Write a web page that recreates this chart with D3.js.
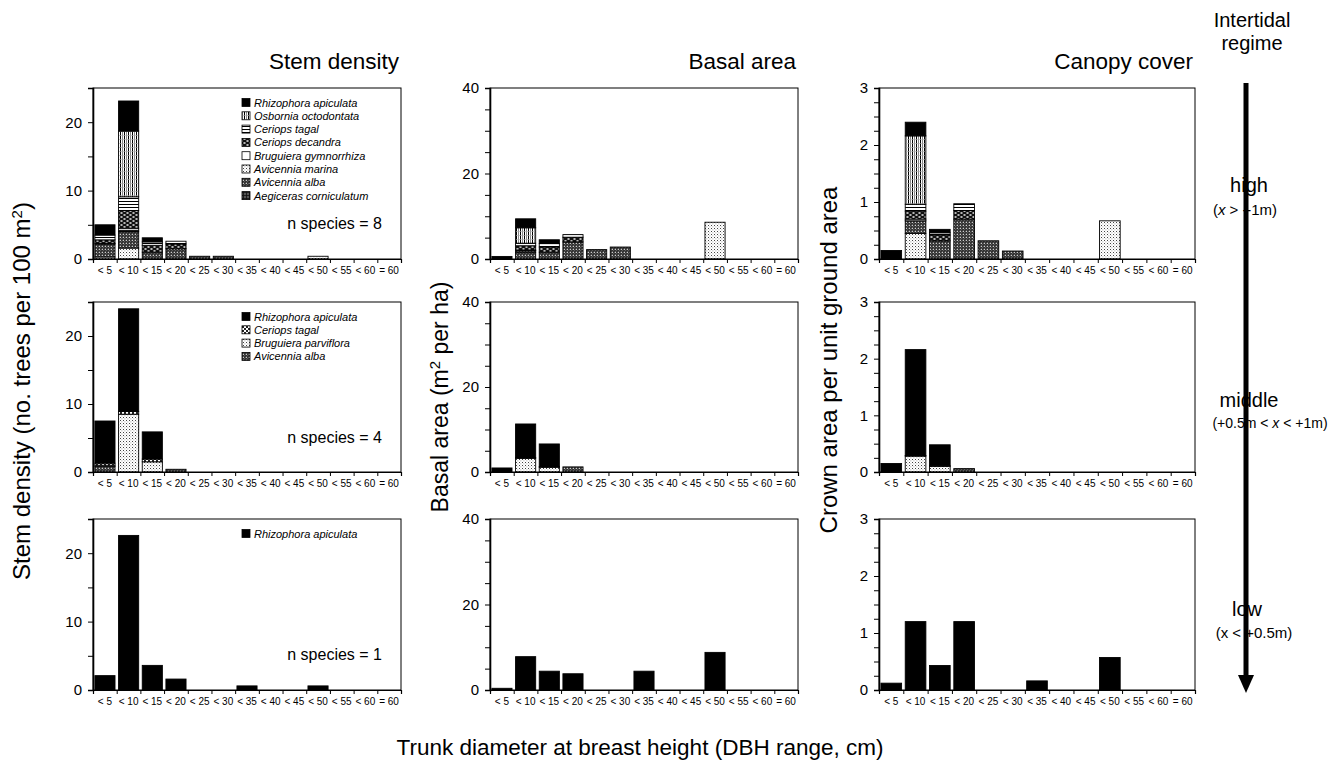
<!DOCTYPE html>
<html>
<head>
<meta charset="utf-8">
<script src="https://cdn.jsdelivr.net/npm/d3@7"></script>
<style>
  body { margin: 0; background: #fff; }
  text { font-family: "Liberation Sans", Arial, Helvetica, sans-serif; }
</style>
</head>
<body>
<svg id="chart" width="1330" height="767"></svg>
<script>
// DBH classes (x categories)
const dbhClasses = ["< 5","< 10","< 15","< 20","< 25","< 30","< 35","< 40","< 45","< 50","< 55","< 60","= 60"];

// species lists, legend order (top to bottom)
const highSpecies = ["Rhizophora apiculata","Osbornia octodontata","Ceriops tagal","Ceriops decandra",
  "Bruguiera gymnorrhiza","Avicennia marina","Avicennia alba","Aegiceras corniculatum"];
const midSpecies = ["Rhizophora apiculata","Ceriops tagal","Bruguiera parviflora","Avicennia alba"];
const lowSpecies = ["Rhizophora apiculata"];

// stacking order, bottom to top
const highStackOrder = ["Avicennia marina","Avicennia alba","Aegiceras corniculatum","Bruguiera gymnorrhiza",
  "Ceriops decandra","Ceriops tagal","Osbornia octodontata","Rhizophora apiculata"];
const midStackOrder = ["Avicennia alba","Bruguiera parviflora","Ceriops tagal","Rhizophora apiculata"];
const lowStackOrder = ["Rhizophora apiculata"];

// high intertidal, one array per species (same order as highSpecies)
const highStem = [
  [1.5,4.4,0.6,0,0,0,0,0,0,0,0,0,0],
  [0,9.6,0,0,0,0,0,0,0,0,0,0,0],
  [0.7,2.0,0.5,0.4,0,0,0,0,0,0,0,0,0],
  [0.5,2.6,1.0,0.7,0,0,0,0,0,0,0,0,0],
  [0.1,0.3,0,0,0,0,0,0,0,0,0,0,0],
  [0.3,1.6,0,0,0,0,0,0,0,0.4,0,0,0],
  [1.9,2.4,1.0,1.5,0.4,0.4,0,0,0,0,0,0,0],
  [0,0.2,0,0,0,0,0,0,0,0,0,0,0]
];
const highBasal = [
  [0.6,2.1,0.9,0,0,0,0,0,0,0,0,0,0],
  [0,3.6,0,0,0,0,0,0,0,0,0,0,0],
  [0,0.6,0.8,0.6,0,0,0,0,0,0,0,0,0],
  [0,1.0,1.2,1.1,0,0,0,0,0,0,0,0,0],
  [0,0.1,0,0,0,0,0,0,0,0,0,0,0],
  [0,0,0,0,0,0,0,0,0,8.6,0,0,0],
  [0,1.6,1.6,4.0,2.2,2.8,0,0,0,0,0,0,0],
  [0,0.4,0,0,0,0,0,0,0,0,0,0,0]
];
const highCanopy = [
  [0.15,0.24,0.06,0,0,0,0,0,0,0,0,0,0],
  [0,1.2,0,0,0,0,0,0,0,0,0,0,0],
  [0,0.12,0.04,0.12,0,0,0,0,0,0,0,0,0],
  [0,0.14,0.1,0.15,0,0,0,0,0,0,0,0,0],
  [0,0.03,0,0,0,0,0,0,0,0,0,0,0],
  [0,0.45,0,0,0,0,0,0,0,0.67,0,0,0],
  [0,0.22,0.32,0.7,0.32,0.14,0,0,0,0,0,0,0],
  [0,0,0,0,0,0,0,0,0,0,0,0,0]
];

// middle intertidal (same order as midSpecies)
const midStem = [
  [6.2,15.1,4.0,0,0,0,0,0,0,0,0,0,0],
  [0.3,0.4,0.4,0,0,0,0,0,0,0,0,0,0],
  [0.2,8.5,1.5,0,0,0,0,0,0,0,0,0,0],
  [0.8,0,0,0.4,0,0,0,0,0,0,0,0,0]
];
const midBasal = [
  [0.95,7.9,5.3,0,0,0,0,0,0,0,0,0,0],
  [0,0.2,0.2,0,0,0,0,0,0,0,0,0,0],
  [0,3.2,1.1,0,0,0,0,0,0,0,0,0,0],
  [0,0,0,1.2,0,0,0,0,0,0,0,0,0]
];
const midCanopy = [
  [0.15,1.87,0.37,0,0,0,0,0,0,0,0,0,0],
  [0,0.01,0.01,0,0,0,0,0,0,0,0,0,0],
  [0,0.28,0.1,0,0,0,0,0,0,0,0,0,0],
  [0,0,0,0.06,0,0,0,0,0,0,0,0,0]
];

// low intertidal
const lowStem = [[2.1,22.6,3.6,1.6,0,0,0.6,0,0,0.6,0,0,0]];
const lowBasal = [[0.4,7.8,4.4,3.8,0,0,4.4,0,0,8.8,0,0,0]];
const lowCanopy = [[0.12,1.2,0.43,1.2,0,0,0.16,0,0,0.57,0,0,0]];

const nSpecies = [8, 4, 1];
const colTitles = ["Stem density", "Basal area", "Canopy cover"];

// y axis settings per column: max, tick step, label step
const yMax = [25, 40, 3];
const yStep = [5, 5, 0.25];
const yLabelStep = [10, 20, 1];

var svg = d3.select("#chart");
svg.append("rect").attr("width", 1330).attr("height", 767).attr("fill", "#fff");

// ---- fill patterns ----
var defs = svg.append("defs");
function makePattern(id, w, h, bg, draw) {
  var p = defs.append("pattern").attr("id", id)
    .attr("patternUnits", "userSpaceOnUse").attr("width", w).attr("height", h);
  p.append("rect").attr("width", w).attr("height", h).attr("fill", bg);
  draw(p);
}
makePattern("p-osb", 4, 4, "#fff", p => {
  p.append("rect").attr("x", 0).attr("y", 0).attr("width", 1).attr("height", 4).attr("fill", "#000");
  p.append("rect").attr("x", 2).attr("y", 0).attr("width", 1).attr("height", 4).attr("fill", "#888");
  p.append("rect").attr("x", 0).attr("y", 3).attr("width", 4).attr("height", 0.6).attr("fill", "#aaa");
});
makePattern("p-ctagal", 4, 3, "#fff", p => {
  p.append("rect").attr("x", 0).attr("y", 0).attr("width", 4).attr("height", 1).attr("fill", "#000");
});
makePattern("p-cdec", 6, 4, "#111", p => {
  p.append("ellipse").attr("cx", 1.5).attr("cy", 1).attr("rx", 1.3).attr("ry", 0.8).attr("fill", "#fff");
  p.append("ellipse").attr("cx", 4.5).attr("cy", 3).attr("rx", 1.3).attr("ry", 0.8).attr("fill", "#fff");
});
makePattern("p-light", 3, 3, "#fff", p => {
  p.append("rect").attr("x", 0).attr("y", 0).attr("width", 1).attr("height", 1).attr("fill", "#444");
  p.append("rect").attr("x", 1.5).attr("y", 1.5).attr("width", 0.8).attr("height", 0.8).attr("fill", "#777");
});
makePattern("p-dark", 3, 3, "#333", p => {
  p.append("rect").attr("x", 0).attr("y", 0).attr("width", 1).attr("height", 1).attr("fill", "#ccc");
  p.append("line").attr("x1", 0).attr("y1", 3).attr("x2", 3).attr("y2", 0).attr("stroke", "#777").attr("stroke-width", 0.6);
});
makePattern("p-aeg", 3, 3, "#555", p => {
  p.append("rect").attr("x", 0).attr("y", 0).attr("width", 3).attr("height", 0.8).attr("fill", "#111");
  p.append("rect").attr("x", 0).attr("y", 0).attr("width", 0.8).attr("height", 3).attr("fill", "#111");
});
makePattern("p-check", 4, 4, "#fff", p => {
  p.append("rect").attr("x", 0).attr("y", 0).attr("width", 2).attr("height", 2).attr("fill", "#222");
  p.append("rect").attr("x", 2).attr("y", 2).attr("width", 2).attr("height", 2).attr("fill", "#222");
});

const speciesFill = {
  "Rhizophora apiculata": "#000",
  "Osbornia octodontata": "url(#p-osb)",
  "Ceriops tagal": "url(#p-ctagal)",
  "Ceriops decandra": "url(#p-cdec)",
  "Bruguiera gymnorrhiza": "#fff",
  "Avicennia marina": "url(#p-light)",
  "Avicennia alba": "url(#p-dark)",
  "Aegiceras corniculatum": "url(#p-aeg)",
  "Bruguiera parviflora": "url(#p-light)"
};
const midFill = Object.assign({}, speciesFill, { "Ceriops tagal": "url(#p-check)" });

// ---- layout ----
var cols = [{x: 93, w: 308}, {x: 490, w: 308}, {x: 879, w: 316}];
var rows = [{y: 88, h: 171}, {y: 302, h: 170}, {y: 519, h: 171}];

var rowData = [
  {species: highSpecies, order: highStackOrder, vals: [highStem, highBasal, highCanopy], fill: speciesFill},
  {species: midSpecies, order: midStackOrder, vals: [midStem, midBasal, midCanopy], fill: midFill},
  {species: lowSpecies, order: lowStackOrder, vals: [lowStem, lowBasal, lowCanopy], fill: speciesFill}
];

rowData.forEach(function(rd, r) {
  var R = rows[r];
  cols.forEach(function(C, c) {
    var g = svg.append("g");
    var x = d3.scaleBand().domain(dbhClasses).range([C.x, C.x + C.w]).paddingInner(0.15).paddingOuter(0.08);
    var xb = d3.scaleLinear().domain([0, dbhClasses.length]).range([C.x, C.x + C.w]);
    var y = d3.scaleLinear().domain([0, yMax[c]]).range([R.y + R.h, R.y]);

    // table for stacking
    var vals = rd.vals[c];
    var table = dbhClasses.map(function(cls, i) {
      var o = {cls: cls};
      rd.species.forEach(function(sp, s) { o[sp] = vals[s][i]; });
      return o;
    });
    var series = d3.stack().keys(rd.order)(table);

    series.forEach(function(ser) {
      g.selectAll(null)
        .data(ser.filter(d => d[1] - d[0] > 0))
        .join("rect")
        .attr("x", d => x(d.data.cls))
        .attr("width", x.bandwidth())
        .attr("y", d => y(d[1]))
        .attr("height", d => y(d[0]) - y(d[1]))
        .attr("fill", rd.fill[ser.key])
        .attr("stroke", "#000")
        .attr("stroke-width", 0.9);
    });

    // frame
    g.append("rect").attr("x", C.x).attr("y", R.y).attr("width", C.w).attr("height", R.h)
      .attr("fill", "none").attr("stroke", "#000").attr("stroke-width", 1);

    // y axis
    var ticks = d3.range(0, Math.round(yMax[c] / yStep[c]) + 1).map(k => k * yStep[c]);
    var yAxis = d3.axisLeft(y).tickValues(ticks).tickSize(5).tickPadding(6)
      .tickFormat(v => Math.abs(v / yLabelStep[c] - Math.round(v / yLabelStep[c])) < 1e-6 ? d3.format("d")(v) : "");
    var ya = g.append("g").attr("transform", `translate(${C.x},0)`).call(yAxis);
    ya.select(".domain").attr("stroke-width", 1.6);
    ya.selectAll("text").attr("font-size", 15).attr("fill", "#000");

    // x ticks at band boundaries
    var xa = g.append("g").attr("transform", `translate(0,${R.y + R.h})`)
      .call(d3.axisBottom(xb).tickValues(d3.range(0, dbhClasses.length + 1)).tickSize(4).tickFormat(""));
    xa.select(".domain").attr("stroke-width", 1.2);
    var xl = g.append("g").attr("transform", `translate(0,${R.y + R.h})`)
      .call(d3.axisBottom(x).tickSize(0).tickPadding(8));
    xl.select(".domain").remove();
    xl.selectAll("text").attr("font-size", 10).attr("fill", "#000");

    // legend + n species in first column
    if (c === 0) {
      var lg = g.append("g");
      rd.species.forEach(function(sp, s) {
        var ly = R.y + 15 + s * 13.3;
        lg.append("rect").attr("x", 242).attr("y", ly - 4.5).attr("width", 8).attr("height", 8)
          .attr("fill", rd.fill[sp]).attr("stroke", "#000").attr("stroke-width", 0.8);
        lg.append("text").attr("x", 254).attr("y", ly + 3.5).text(sp)
          .attr("font-size", 11).attr("font-style", "italic");
      });
      g.append("text").attr("x", 382).attr("y", R.y + 141).attr("text-anchor", "end")
        .attr("font-size", 16).text("n species = " + nSpecies[r]);
    }
  });
});

// column titles
colTitles.forEach(function(t, c) {
  svg.append("text").attr("x", cols[c].x + cols[c].w - 2).attr("y", 69).attr("text-anchor", "end")
    .attr("font-size", 22.5).text(t);
});

// y axis titles
var yl1 = svg.append("text").attr("transform", "translate(30,391) rotate(-90)").attr("text-anchor", "middle").attr("font-size", 24);
yl1.append("tspan").text("Stem density (no. trees per 100 m");
yl1.append("tspan").attr("baseline-shift", "super").attr("font-size", 15).text("2");
yl1.append("tspan").text(")");

var yl2 = svg.append("text").attr("transform", "translate(448,397) rotate(-90)").attr("text-anchor", "middle").attr("font-size", 23);
yl2.append("tspan").text("Basal area (m");
yl2.append("tspan").attr("baseline-shift", "super").attr("font-size", 15).text("2");
yl2.append("tspan").text(" per ha)");

svg.append("text").attr("transform", "translate(837,360) rotate(-90)").attr("text-anchor", "middle")
  .attr("font-size", 24).text("Crown area per unit ground area");

// x axis title
svg.append("text").attr("x", 640).attr("y", 755).attr("text-anchor", "middle").attr("font-size", 22.5)
  .text("Trunk diameter at breast height (DBH range, cm)");

// intertidal regime labels
function regime(lines, yy) {
  lines.forEach(function(l, i) {
    var t = svg.append("text").attr("x", l.x).attr("y", yy[i]).attr("text-anchor", "middle").attr("font-size", l.size);
    l.parts.forEach(p => t.append("tspan").attr("font-style", p.it ? "italic" : null).text(p.s));
  });
}
regime([{x: 1252, size: 20, parts: [{s: "Intertidal"}]}, {x: 1252, size: 20, parts: [{s: "regime"}]}], [27, 50]);
regime([{x: 1249, size: 20, parts: [{s: "high"}]}, {x: 1245, size: 15, parts: [{s: "("}, {s: "x", it: true}, {s: " > +1m)"}]}], [192, 215]);
regime([{x: 1249, size: 20, parts: [{s: "middle"}]}, {x: 1270, size: 14, parts: [{s: "(+0.5m < "}, {s: "x", it: true}, {s: " < +1m)"}]}], [407, 428]);
regime([{x: 1247, size: 20, parts: [{s: "low"}]}, {x: 1254, size: 15, parts: [{s: "(x < +0.5m)"}]}], [616, 638]);

// arrow
svg.append("line").attr("x1", 1246).attr("x2", 1246).attr("y1", 83).attr("y2", 678)
  .attr("stroke", "#000").attr("stroke-width", 5);
svg.append("path").attr("d", "M1238,675 L1254,675 L1246,693 Z").attr("fill", "#000");
</script>
</body>
</html>
